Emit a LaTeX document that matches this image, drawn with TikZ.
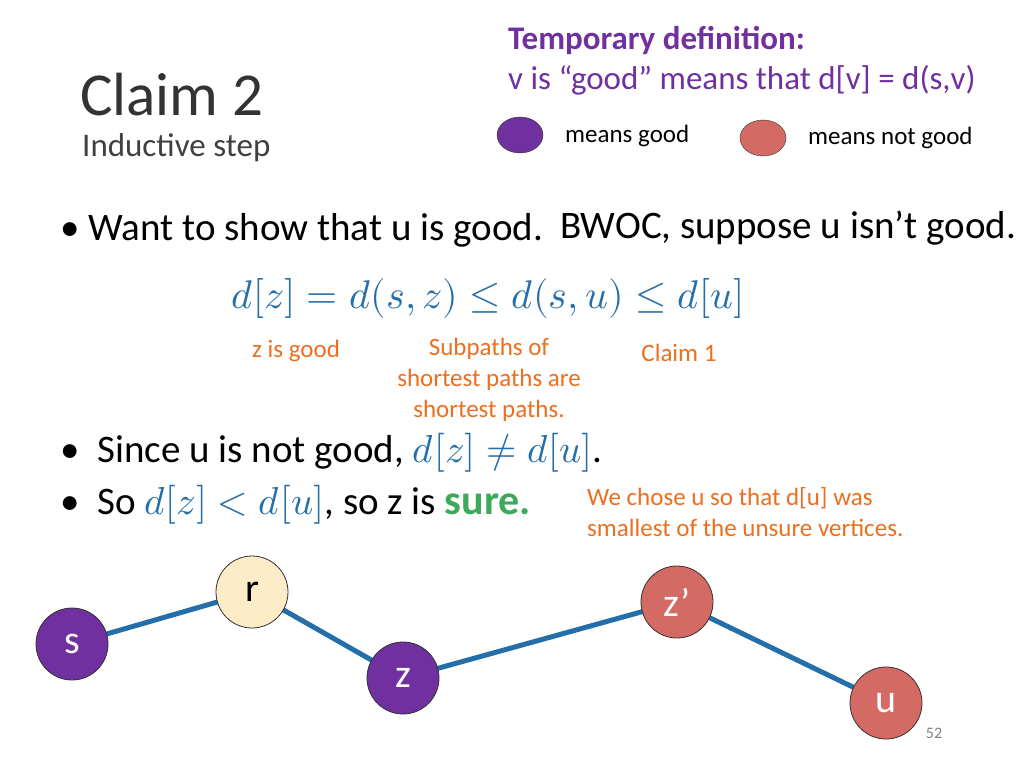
\documentclass[tikz,border=0pt]{standalone}
\usepackage{fontspec}
\usepackage{unicode-math}
\setmainfont{Carlito}
\setmathfont{Latin Modern Math}
\usetikzlibrary{shapes.geometric}
\definecolor{purp}{RGB}{112,48,160}
\definecolor{redg}{RGB}{212,106,100}
\definecolor{cream}{RGB}{253,236,200}
\definecolor{blu}{RGB}{36,110,170}
\definecolor{orng}{RGB}{237,110,30}
\definecolor{grn}{RGB}{60,170,90}
\begin{document}
\begin{tikzpicture}[x=1pt,y=-1pt]

	\tikzstyle{vert}=[circle, draw=black!80, line width=0.8pt, minimum size=72pt, inner sep=0pt, font=\fontsize{40}{42}\selectfont]
	\tikzstyle{good}=[vert, fill=purp, text=white]
	\tikzstyle{bad}=[vert, fill=redg, text=white]
	\tikzstyle{edge}=[blu, line width=5pt]
	\tikzstyle{note}=[orng, font=\fontsize{25}{31}\selectfont, align=center]
	\tikzstyle{txt}=[anchor=west, inner sep=0pt]
	\tikzstyle{big}=[txt, font=\fontsize{39}{42}\selectfont]

	\useasboundingbox (0,0) rectangle (1024,768);

	\node[txt, purp, font=\bfseries\fontsize{33}{35}\selectfont] (tdef) at (508,40) {Temporary definition:};
	\node[txt, purp, font=\fontsize{33}{35}\selectfont] (tgood) at (508,80) {v is “good” means that d[v] = d(s,v)};
	\node[txt, font=\fontsize{61}{64}\selectfont, black!80] (claim) at (80,95) {Claim 2};
	\node[txt, font=\fontsize{33}{35}\selectfont, black!75] (step) at (82,148) {Inductive step};

	\node[ellipse, draw=black!80, fill=purp, minimum width=46pt, minimum height=36pt] (kgood) at (520,135) {};
	\node[txt, font=\fontsize{25}{27}\selectfont] (lgood) at (565,136) {means good};
	\node[ellipse, draw=black!80, fill=redg, minimum width=46pt, minimum height=36pt] (kbad) at (763,138) {};
	\node[txt, font=\fontsize{25}{27}\selectfont] (lbad) at (808,138) {means not good};

	\node[big] (want) at (60,230) {• Want to show that u is good.};
	\node[big] (bwoc) at (560,228) {BWOC, suppose u isn’t good.};
	\node[blu, font=\fontsize{40}{42}\selectfont] (ineq) at (488,298) {$d[z]=d(s,z)\leq d(s,u)\leq d[u]$};

	\node[note] (zgood) at (296,351) {z is good};
	\node[note] (subp) at (489,380) {Subpaths of\\shortest paths are\\shortest paths.};
	\node[note] (cl1) at (679,353) {Claim 1};

	\node[big] (since) at (60,453) {•\ \ Since u is not good, \textcolor{blu}{$d[z]\neq d[u]$}.};
	\node[big] (so) at (60,505) {•\ \ So \textcolor{blu}{$d[z]<d[u]$}, so z is \textcolor{grn}{\bfseries\fontsize{42}{44}\selectfont sure.}};
	\node[note, txt, align=left] (chose) at (587,512) {We chose u so that d[u] was\\smallest of the unsure vertices.};

	\draw[edge] (72,644) -- (252,592) -- (403,678) -- (677,602) -- (886,703);

	\node[good] (s) at (72,644) {s};
	\node[vert, fill=cream] (r) at (252,592) {r};
	\node[good] (z) at (403,678) {z};
	\node[bad] (zp) at (677,602) {z’};
	\node[bad] (u) at (886,703) {u};

	\node[gray, font=\fontsize{16}{18}\selectfont] (page) at (934,733) {52};
\end{tikzpicture}
\end{document}
